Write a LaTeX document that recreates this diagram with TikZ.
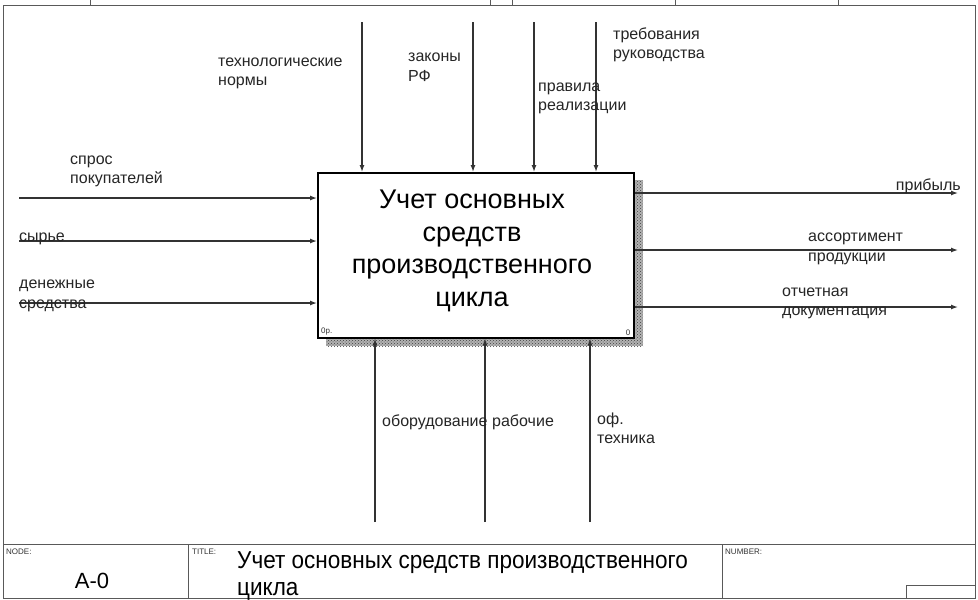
\documentclass[tikz,border=0pt]{standalone}
\usepackage{fontspec}
\setmainfont{Liberation Sans}
\newfontfamily\titlefont[FakeStretch=0.92]{Liberation Sans}
\usetikzlibrary{arrows.meta,patterns}
\begin{document}
\begin{tikzpicture}[x=1pt,y=-1pt,
  lbl/.style={font=\fontsize{16}{19.5}\selectfont, align=left, inner sep=0pt, anchor=base west, text=black!85},
  flow/.style={line width=1.3pt, draw=black!80, -{Latex[length=7pt,width=5pt]}},
  frameline/.style={line width=1pt, draw=black!65},
  tinytxt/.style={font=\fontsize{8}{9}\selectfont, inner sep=0pt, anchor=west, text=black!80}]
\useasboundingbox (0,0) rectangle (978,600);
\fill[white] (0,0) rectangle (978,600);
% frame
\draw[frameline] (3,5) rectangle (975,598);
\foreach \xx in {90,490,512,675,838} \draw[frameline] (\xx,0) -- (\xx,5);
\draw[frameline] (3,544) -- (975,544);
\draw[frameline] (188,544) -- (188,598);
\draw[frameline] (722,544) -- (722,598);
\draw[frameline] (906,585) rectangle (975,598);
% title block texts
\node[tinytxt] (nodelbl) at (6,552) {NODE:};
\node[tinytxt] (titlelbl) at (192,552) {TITLE:};
\node[tinytxt] (numlbl) at (725,552) {NUMBER:};
\node[font=\fontsize{22}{24}\selectfont, inner sep=0pt, anchor=base] (nodeid) at (92,588) {A-0};
\node[font=\titlefont\fontsize{24.5}{27}\selectfont, inner sep=0pt, anchor=base west, align=left] (titletxt) at (237,595) {Учет основных средств производственного\\цикла};
% shadow and box
\fill[black!30] (326,180) rectangle (643,346);
\fill[pattern=crosshatch dots, pattern color=black!75] (326,180) rectangle (643,346);
\node[draw=black, line width=1.5pt, fill=white, minimum width=316pt, minimum height=165pt, anchor=north west, inner sep=0pt] (box) at (317,172) {};
\node[font=\fontsize{27}{32.5}\selectfont, align=center, inner sep=0pt] (boxtxt) at (472,251) {Учет основных\\средств\\производственного\\цикла};
\node[tinytxt, anchor=south west] (boxnum) at ([shift={(4,-3)}]box.south west) {0р.};
\node[tinytxt, anchor=south east] (boxzero) at ([shift={(-4,-3)}]box.south east) {0};
% inputs
\coordinate (in1) at (19,198);
\coordinate (in2) at (19,241);
\coordinate (in3) at (19,303);
\draw[flow] (in1) -- (in1 -| box.west);
\draw[flow] (in2) -- (in2 -| box.west);
\draw[flow] (in3) -- (in3 -| box.west);
\node[lbl] (l1) at (70,183.5) {спрос\\покупателей};
\node[lbl] (l2) at (19,241) {сырье};
\node[lbl] (l3) at (19,308) {денежные\\средства};
% controls
\coordinate (c1) at (362,22);
\coordinate (c2) at (473,22);
\coordinate (c3) at (534,22);
\coordinate (c4) at (596,22);
\foreach \cc in {c1,c2,c3,c4} \draw[flow] (\cc) -- (\cc |- box.north);
\node[lbl] (t1) at (218,85.5) {технологические\\нормы};
\node[lbl] (t2) at (408,81) {законы\\РФ};
\node[lbl] (t3) at (538,110.5) {правила\\реализации};
\node[lbl] (t4) at (613,58.5) {требования\\руководства};
% outputs
\coordinate (o1) at (958,193);
\coordinate (o2) at (958,250);
\coordinate (o3) at (958,307);
\foreach \oo in {o1,o2,o3} \draw[flow] (\oo -| box.east) -- (\oo);
\node[lbl, anchor=base east] (r1) at (961,190) {прибыль};
\node[lbl] (r2) at (808,261) {ассортимент\\продукции};
\node[lbl] (r3) at (782,315.5) {отчетная\\документация};
% mechanisms
\coordinate (m1) at (375,522);
\coordinate (m2) at (485,522);
\coordinate (m3) at (590,522);
\foreach \mm in {m1,m2,m3} \draw[flow] (\mm) -- (\mm |- box.south);
\node[lbl] (b1) at (382,426) {оборудование};
\node[lbl] (b2) at (492,426) {рабочие};
\node[lbl] (b3) at (597,443.5) {оф.\\техника};
\end{tikzpicture}
\end{document}
